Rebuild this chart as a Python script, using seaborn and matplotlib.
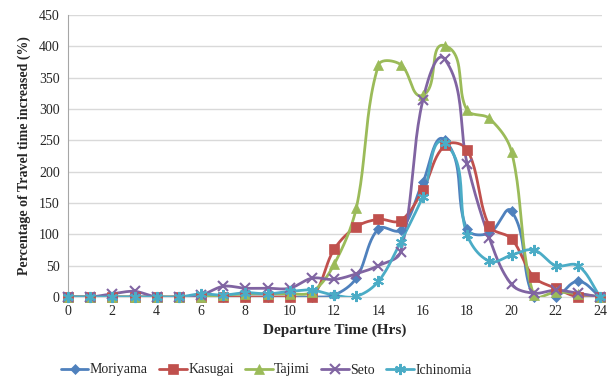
import numpy as np
import matplotlib.pyplot as plt
from matplotlib.lines import Line2D
import seaborn as sns

hours = list(range(0, 25))
moriyama = [0, 0, 0, 0, 0, 0, 0, 0, 0, 0, 0, 0, 3, 30, 109, 107, 183, 250, 108, 102, 137, 0, 0, 25, 0]
kasugai = [0, 0, 0, 0, 0, 0, 0, 0, 0, 0, 0, 0, 76, 112, 124, 122, 171, 242, 235, 113, 93, 32, 14, 0, 0]
tajimi = [0, 0, 0, 0, 0, 0, 0, 3, 5, 5, 5, 8, 52, 142, 370, 371, 322, 401, 298, 285, 232, 3, 8, 5, 0]
seto = [0, 0, 5, 9, 0, 0, 3, 17, 14, 14, 14, 30, 28, 37, 50, 72, 314, 379, 213, 94, 20, 6, 11, 6, 0]
ichinomia = [0, 0, 0, 0, 0, 0, 5, 3, 7, 5, 9, 11, 3, 1, 25, 88, 160, 245, 99, 57, 67, 75, 50, 50, 0]

names = ["Moriyama", "Kasugai", "Tajimi", "Seto", "Ichinomia"]
series = [moriyama, kasugai, tajimi, seto, ichinomia]
colors = ["#4F81BD", "#C0504D", "#9BBB59", "#8064A2", "#4BACC6"]
markers = ["D", "s", "^", "x", (6, 2, 0)]
msizes = [5.5, 6.5, 6.5, 7, 8]

# approximate screen scale (px per hour, px per percent) for the smoothing
SX, SY = 22.2, 0.627


def smooth(x, y, n=24, f=1 / 3):
    # Excel-like smoothed line: cubic Bezier in screen space
    P = np.column_stack([np.asarray(x, float) * SX, np.asarray(y, float) * SY])
    pts = []
    t = np.linspace(0, 1, n, endpoint=False)[:, None]
    for i in range(len(P) - 1):
        p0 = P[i - 1] if i > 0 else P[i]
        p1, p2 = P[i], P[i + 1]
        p3 = P[i + 2] if i + 2 < len(P) else P[i + 1]
        L = np.linalg.norm(p2 - p1) * f
        d1 = p2 - p0
        d2 = p3 - p1
        c1 = p1 + d1 / np.linalg.norm(d1) * L
        c2 = p2 - d2 / np.linalg.norm(d2) * L
        b = (1 - t) ** 3 * p1 + 3 * (1 - t) ** 2 * t * c1 + 3 * (1 - t) * t ** 2 * c2 + t ** 3 * p2
        pts.append(b)
    pts.append(P[-1][None, :])
    pts = np.vstack(pts)
    return pts[:, 0] / SX, pts[:, 1] / SY


sns.set_style("white")
plt.rcParams["font.family"] = ["Liberation Serif", "DejaVu Serif"]

fig = plt.figure(figsize=(6.14, 3.81), dpi=100)
ax = fig.add_axes([68 / 614, 84 / 381, 534 / 614, 282 / 381])

handles = []
for name, vals, c, m, ms in zip(names, series, colors, markers, msizes):
    sx, sy = smooth(hours, vals)
    sns.lineplot(x=sx, y=sy, color=c, lw=2, ax=ax, sort=False, estimator=None)
    mew = 1.5 if m in ("x", (6, 2, 0)) else 0.5
    ax.plot(hours, vals, linestyle="none", marker=m, ms=ms, color=c,
            markeredgecolor=c, markeredgewidth=mew, zorder=3, clip_on=False)
    handles.append(Line2D([], [], color=c, lw=2, marker=m, ms=ms, markeredgewidth=mew))

ax.set_xlim(0, 24.08)
ax.set_ylim(0, 450)
ax.set_xticks(range(0, 25, 2))
ax.set_yticks(range(0, 451, 50))
ax.yaxis.grid(True, color="#D9D9D9", lw=1)
ax.set_axisbelow(True)
for s in ["top", "right"]:
    ax.spines[s].set_visible(False)
ax.spines["left"].set_color("#A6A6A6")
ax.spines["bottom"].set_color("#D9D9D9")
ax.tick_params(axis="both", length=0, labelsize=10, pad=6)
ax.set_xlabel("Departure Time (Hrs)", fontsize=11, fontweight="bold", labelpad=4)
ax.set_ylabel("Percentage of Travel time increased (%)", fontsize=10, fontweight="bold", labelpad=6)

fig.legend(handles, names, loc="center", bbox_to_anchor=(266 / 614, 11 / 381), ncol=5, frameon=False,
           fontsize=10, handlelength=2.0, columnspacing=0.8, handletextpad=0.1)

fig.savefig("out.png", dpi=100)
